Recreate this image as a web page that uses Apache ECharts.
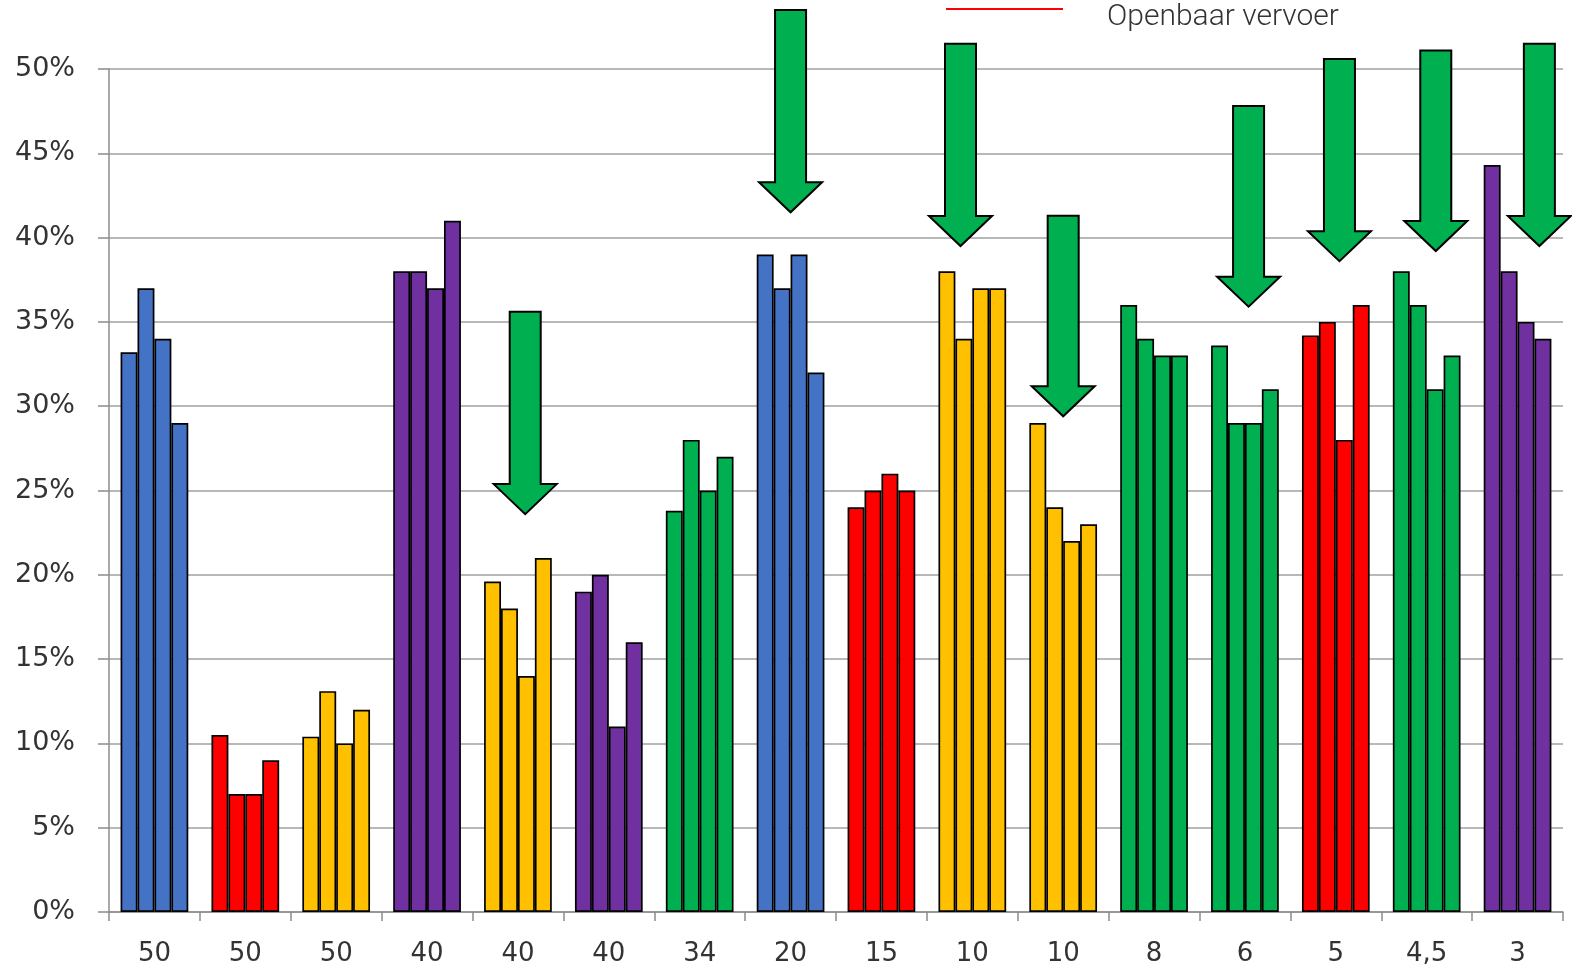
<!DOCTYPE html>
<html><head><meta charset="utf-8">
<script src="https://cdn.jsdelivr.net/npm/echarts@6/dist/echarts.min.js"></script>
<style>html,body{margin:0;padding:0;background:#fff}#c{width:1572px;height:973px}</style>
</head><body><div id="c"></div>
<script>
// ---- data ----
const categories = ['50','50','50','40','40','40','34','20','15','10','10','8','6','5','4,5','3'];
const categoryColors = ['#4472C4','#FF0000','#FFC000','#7030A0','#FFC000','#7030A0','#00B050','#4472C4',
                        '#FF0000','#FFC000','#FFC000','#00B050','#00B050','#FF0000','#00B050','#7030A0'];
const bar1 = [33.2, 10.5, 10.4, 38, 19.6, 19, 23.8, 39, 24, 38, 29, 36, 33.6, 34.2, 38, 44.3];
const bar2 = [37, 7, 13.1, 38, 18, 20, 28, 37, 25, 34, 24, 34, 29, 35, 36, 38];
const bar3 = [34, 7, 10, 37, 14, 11, 25, 39, 26, 37, 22, 33, 29, 28, 31, 35];
const bar4 = [29, 9, 12, 41, 21, 16, 27, 32, 25, 37, 23, 33, 31, 36, 33, 34];
const yMin = 0, yMax = 50, yStep = 5;
// arrows: position along the category axis (in category units), top and tip value (%)
const arrowPositions = [4.58, 7.50, 9.37, 10.50, 12.54, 13.54, 14.60, 15.74];
const arrowTops = [35.6, 53.5, 51.5, 41.3, 47.8, 50.6, 51.1, 51.5];
const arrowTips = [23.6, 41.5, 39.5, 29.4, 35.9, 38.6, 39.2, 39.5];
const legendName = 'Openbaar vervoer';

// ---- chart ----
const chart = echarts.init(document.getElementById('c'), null, {renderer: 'canvas'});
const barSeries = [bar1, bar2, bar3, bar4].map(function (d) {
  return {
    type: 'bar', xAxisIndex: 0, yAxisIndex: 0, data: d,
    barGap: '0%', barCategoryGap: '25.5%',
    itemStyle: {
      color: function (p) { return categoryColors[p.dataIndex]; },
      borderColor: '#000', borderWidth: 1.7
    },
    emphasis: {disabled: true}, silent: true
  };
});
const arrowData = arrowPositions.map(function (x, i) { return [x, arrowTops[i], arrowTips[i]]; });

chart.setOption({
  animation: false,
  backgroundColor: '#fff',
  grid: {left: 109, right: 9, top: 69, bottom: 61, containLabel: false},
  legend: [{
    // legend line symbol
    data: [legendName], left: 946, top: 8, padding: 0,
    icon: 'rect', itemWidth: 117, itemHeight: 2,
    formatter: function () { return ''; },
    textStyle: {fontSize: 1}
  }, {
    // legend text
    data: [legendName], left: 1102, top: 2, padding: 0,
    icon: 'none', itemWidth: 0, itemHeight: 2,
    textStyle: {fontFamily: 'Roboto', fontWeight: 300, fontSize: 30, color: '#333'}
  }],
  xAxis: [{
    type: 'category', data: categories,
    axisLine: {lineStyle: {color: '#8c8c8c', width: 1.5}},
    axisTick: {show: true, length: 9, lineStyle: {color: '#8c8c8c', width: 1.5}},
    axisLabel: {fontFamily: 'DejaVu Sans', fontSize: 26, color: '#333', margin: 29},
    splitLine: {show: false}
  }, {
    type: 'value', min: 0, max: categories.length, show: false
  }],
  yAxis: {
    type: 'value', min: yMin, max: yMax, interval: yStep,
    axisLine: {show: true, lineStyle: {color: '#8c8c8c', width: 1.5}},
    axisTick: {show: true, length: 11, lineStyle: {color: '#8c8c8c', width: 1.5}},
    axisLabel: {formatter: '{value}%', fontFamily: 'DejaVu Sans', fontSize: 27, color: '#333', margin: 34},
    splitLine: {lineStyle: {color: '#a0a0a0', width: 1.5}}
  },
  series: barSeries.concat([{
    type: 'custom', name: 'arrows', xAxisIndex: 1, yAxisIndex: 0, clip: false, silent: true,
    data: arrowData,
    renderItem: function (params, api) {
      const top = api.coord([api.value(0), api.value(1)]);
      const tip = api.coord([api.value(0), api.value(2)]);
      const x = top[0], hs = 15.5, hh = 31.5, headH = 30;
      const base = tip[1] - headH;
      return {
        type: 'polygon',
        shape: {points: [[x - hs, top[1]], [x + hs, top[1]], [x + hs, base], [x + hh, base],
                         [x, tip[1]], [x - hh, base], [x - hs, base]]},
        style: {fill: '#00B050', stroke: '#000', lineWidth: 2}
      };
    }
  }, {
    type: 'line', name: legendName, data: [], color: '#FF0000', symbol: 'none'
  }])
});
</script></body></html>
